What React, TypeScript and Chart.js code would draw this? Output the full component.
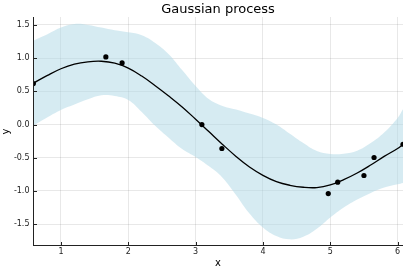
import React, { useEffect, useRef } from "react";
import { Chart, registerables } from "chart.js";

Chart.register(...registerables);

// Prediction grid (x positions where the GP curve/band was read)
const gridX = [0.585, 0.8, 1.0, 1.2, 1.4, 1.6, 1.8, 2.0, 2.2, 2.4, 2.6, 2.8, 3.0, 3.2, 3.4, 3.6, 3.8, 4.0, 4.2, 4.4, 4.6, 4.8, 5.0, 5.2, 5.4, 5.6, 5.8, 6.0, 6.08];
const meanY = [0.62, 0.74, 0.84, 0.91, 0.945, 0.953, 0.925, 0.85, 0.73, 0.585, 0.43, 0.265, 0.08, -0.11, -0.3, -0.48, -0.64, -0.765, -0.86, -0.915, -0.945, -0.95, -0.91, -0.83, -0.73, -0.61, -0.48, -0.36, -0.3];
const upperY = [1.26, 1.36, 1.46, 1.515, 1.5, 1.46, 1.42, 1.39, 1.345, 1.23, 1.06, 0.82, 0.58, 0.38, 0.28, 0.225, 0.165, 0.1, 0.0, -0.14, -0.28, -0.4, -0.445, -0.44, -0.395, -0.28, -0.12, 0.1, 0.23];
const lowerY = [-0.02, 0.11, 0.22, 0.3, 0.38, 0.44, 0.43, 0.37, 0.19, -0.02, -0.2, -0.37, -0.49, -0.63, -0.8, -1.06, -1.34, -1.55, -1.68, -1.73, -1.69, -1.57, -1.4, -1.25, -1.13, -1.03, -0.95, -0.9, -0.88];

// Observations
const obsX = [0.59, 1.667, 1.908, 3.093, 3.39, 4.97, 5.11, 5.5, 5.65, 6.08];
const obsY = [0.617, 1.018, 0.928, 0.0, -0.361, -1.04, -0.869, -0.768, -0.497, -0.297];

// Axes
const xTicks = [1, 2, 3, 4, 5, 6];
const xTickLabels = ["1", "2", "3", "4", "5", "6"];
const yTicks = [-1.5, -1.0, -0.5, 0.0, 0.5, 1.0, 1.5];
const yTickLabels = ["-1.5", "-1.0", "-0.5", "0.0", "0.5", "1.0", "1.5"];
const titleText = "Gaussian process";
const xLabel = "x";
const yLabel = "y";

const innerTicks = {
  id: "innerTicks",
  afterDatasetsDraw(chart: any) {
    const { ctx, chartArea, scales } = chart;
    const xs = scales.x;
    const ys = scales.y;
    ctx.save();
    ctx.strokeStyle = "#222";
    ctx.lineWidth = 1;
    ctx.beginPath();
    ctx.moveTo(chartArea.left + 0.5, chartArea.top);
    ctx.lineTo(chartArea.left + 0.5, chartArea.bottom);
    ctx.moveTo(chartArea.left, chartArea.bottom - 0.5);
    ctx.lineTo(chartArea.right, chartArea.bottom - 0.5);
    ctx.stroke();
    ctx.beginPath();
    xTicks.forEach((v) => {
      const px = Math.round(xs.getPixelForValue(v)) + 0.5;
      ctx.moveTo(px, chartArea.bottom);
      ctx.lineTo(px, chartArea.bottom - 4);
    });
    yTicks.forEach((v) => {
      const py = Math.round(ys.getPixelForValue(v)) + 0.5;
      ctx.moveTo(chartArea.left, py);
      ctx.lineTo(chartArea.left + 4, py);
    });
    ctx.stroke();
    ctx.restore();
  },
};

export default function App() {
  const canvasRef = useRef<HTMLCanvasElement | null>(null);

  useEffect(() => {
    if (!canvasRef.current) return;
    Chart.defaults.font.family = "'DejaVu Sans', sans-serif";
    const band = "rgba(173,216,230,0.5)";
    const chart = new Chart(canvasRef.current, {
      type: "line",
      data: {
        datasets: [
          {
            data: gridX.map((x, i) => ({ x, y: upperY[i] })),
            borderColor: "transparent",
            borderWidth: 0,
            backgroundColor: band,
            pointRadius: 0,
            fill: "+1",
            tension: 0.4,
            order: 3,
          },
          {
            data: gridX.map((x, i) => ({ x, y: lowerY[i] })),
            borderColor: "transparent",
            borderWidth: 0,
            backgroundColor: band,
            pointRadius: 0,
            fill: false,
            tension: 0.4,
            order: 3,
          },
          {
            data: gridX.map((x, i) => ({ x, y: meanY[i] })),
            borderColor: "#000",
            borderWidth: 1.3,
            pointRadius: 0,
            fill: false,
            tension: 0.4,
            order: 1,
          },
          {
            data: obsX.map((x, i) => ({ x, y: obsY[i] })),
            showLine: false,
            pointRadius: 2.6,
            pointBackgroundColor: "#000",
            pointBorderColor: "#000",
            pointBorderWidth: 0,
            fill: false,
            order: 0,
          },
        ],
      } as any,
      options: {
        animation: false,
        responsive: false,
        events: [],
        layout: { padding: { left: 0, right: 3, top: 0, bottom: 0 } },
        plugins: {
          legend: { display: false },
          tooltip: { enabled: false },
          title: {
            display: true,
            text: titleText,
            fullSize: false,
            color: "#000",
            font: { size: 13, weight: "normal", lineHeight: 1.2 },
            padding: { top: 1.4, bottom: 0 },
          },
        },
        scales: {
          x: {
            type: "linear",
            min: 0.585,
            max: 6.08,
            afterBuildTicks: (s: any) => {
              s.ticks = xTicks.map((v) => ({ value: v }));
            },
            afterFit: (s: any) => {
              s.height = 25;
            },
            ticks: {
              callback: (_v: any, i: number) => xTickLabels[i],
              color: "#222",
              font: { size: 8 },
              padding: 1,
              maxRotation: 0,
              autoSkip: false,
            },
            grid: { color: "rgba(0,0,0,0.09)", lineWidth: 1, drawTicks: false },
            border: { display: false },
            title: {
              display: true,
              text: xLabel,
              color: "#000",
              font: { size: 10, lineHeight: 1.2 },
              padding: { top: 0, bottom: 1.7 },
            },
          },
          y: {
            type: "linear",
            min: -1.83,
            max: 1.62,
            afterBuildTicks: (s: any) => {
              s.ticks = yTicks.map((v) => ({ value: v }));
            },
            afterFit: (s: any) => {
              s.width = 33;
            },
            ticks: {
              callback: (_v: any, i: number) => yTickLabels[i],
              color: "#222",
              font: { size: 8 },
              padding: 3.5,
              autoSkip: false,
            },
            grid: { color: "rgba(0,0,0,0.09)", lineWidth: 1, drawTicks: false },
            border: { display: false },
            title: {
              display: true,
              text: yLabel,
              color: "#000",
              font: { size: 10, lineHeight: 1.2 },
              padding: { top: 0, bottom: 0 },
            },
          },
        },
      } as any,
      plugins: [innerTicks],
    });
    return () => chart.destroy();
  }, []);

  return (
    <div style={{ position: "fixed", left: 0, top: 0, width: 407, height: 271, background: "#fff" }}>
      <canvas ref={canvasRef} width={407} height={271} style={{ display: "block", width: 407, height: 271 }} />
    </div>
  );
}
